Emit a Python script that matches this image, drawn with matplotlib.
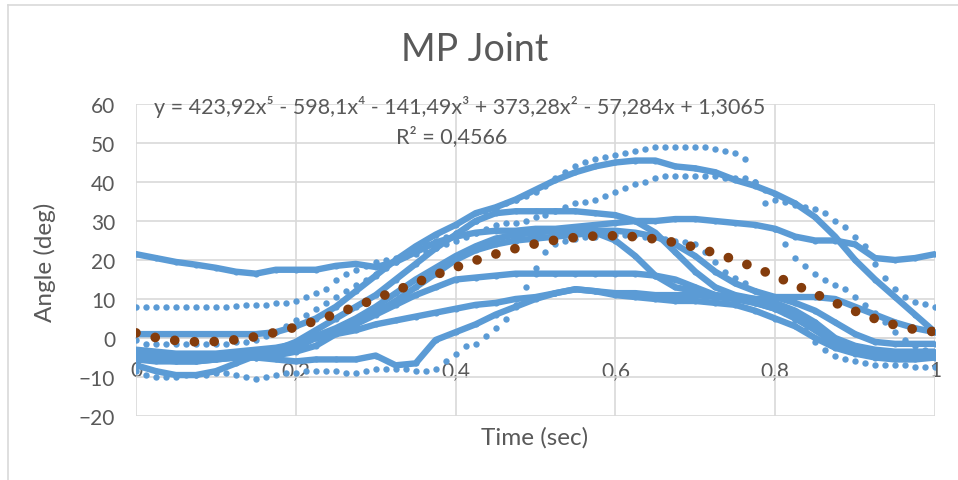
import numpy as np
import matplotlib.pyplot as plt
from matplotlib.lines import Line2D

# ---- data --------------------------------------------------------------
# dense trials, sampled every 0.025 s (normalised time)
trial_a = [21.5, 20.5, 19.5, 18.8, 18, 17, 16.5, 17.5, 17.5, 17.5, 18.5, 19, 18.2,
           19.5, 22, 24.5, 26, 27, 27.5, 27.5, 28, 28, 28.5, 29, 29.5, 30, 30,
           30.5, 30.5, 30, 29.5, 29, 28, 26, 25, 25, 24, 20.5, 20, 20.5, 21.5]
trial_b = [1, 1, 1, 1, 1, 1, 1, 1.5, 3, 5, 8, 12, 16, 20, 23.5, 26.5, 29, 32,
           33.5, 35.5, 38, 40.5, 42.5, 44, 45, 45.5, 45.5, 44, 43.5, 42.5, 40.5,
           39, 37, 34.5, 31, 26, 20, 15, 10.5, 6, 1.5]
trial_c = [-4, -4.5, -5, -5, -4.5, -4, -3.5, -3, -1, 2, 5, 8, 11, 15, 19, 23,
           26.5, 30, 32, 32.5, 32.5, 32.5, 32.5, 32, 31.5, 30, 27, 22, 17, 13,
           11, 10, 9, 7, 4, 0, -2, -3, -3.5, -3.5, -3.5]
trial_d = [-5, -5.5, -6, -6, -5.5, -5, -4.5, -4, -2.5, 0, 2, 4, 6.5, 9.5, 13,
           16.5, 20, 22.5, 24, 25, 25.5, 26, 26.5, 27, 25, 21, 16, 13, 12, 11,
           10, 9, 7.5, 5, 2, -1.5, -3.5, -4.5, -5, -5, -4.5]
trial_e = [-3, -3.5, -4, -4, -4, -3.5, -3, -2.5, -1.5, 0, 1.5, 3.5, 6, 8.5, 11,
           13, 15, 15.5, 16, 16.5, 16.5, 16.5, 16.5, 16.5, 16.5, 16.5, 16, 15,
           13, 11, 10.5, 10, 10.5, 10.5, 10.5, 10, 8, 6, 4, 2.5, 1.5]
trial_f = [-5.5, -6, -6, -6, -5.5, -5, -5, -4.5, -3.5, -2, 1, 2, 3.5, 4.5, 5.5,
           6.5, 7.5, 8.5, 9, 10, 10.5, 11.5, 12.5, 12, 11.5, 11.5, 11, 11, 11,
           10.5, 10, 9, 7.5, 6, 3, -0.5, -3, -4, -4.5, -4.5, -4]
trial_g = [-7, -8.5, -9.5, -9.5, -8.5, -6.5, -4.5, -3, -1.5, 0.5, 2.5, 5, 8,
           11.5, 15, 18, 21, 23.5, 25.5, 26.5, 27, 27.5, 27.5, 27.5, 27.5, 27,
           26, 24, 21, 17, 14, 12, 10.5, 9, 7, 4, 1, -1, -1.5, -1.5, -1.5]
trial_h = [-4, -4.5, -5, -5, -5, -5, -5, -5.5, -6, -5.5, -5.5, -5.5, -4.5, -7,
           -6.5, -0.5, 1.5, 3.5, 6, 8, 10, 11.5, 12.5, 12, 11, 10.5, 10, 9.5,
           9.5, 9, 8.5, 7, 5, 3, 0, -2.5, -4, -5, -5.5, -5.5, -5]

# fast trials, sampled every 0.0125 s (they read as dotted runs)
trial_p = [8, 8, 8, 8, 8, 8, 8, 8, 8, 8, 8.2, 8.5, 8.5, 8.5, 9, 9, 9.5, 10.5,
           11.5, 12.5, 15, 16.5, 17.5, 18.5, 19.5, 20, 20.5, 21, 21.5, 22, 23,
           24, 25, 26, 27, 28, 29, 29.5, 29.5, 30, 31, 31.5, 32.5, 33.5, 34.5,
           35, 35.5, 36.5, 37.5, 38.5, 39.5, 40, 41, 41.5, 41.5, 41.5, 41.5,
           41.5, 41.5, 41, 41, 41, 40, 38, 35.5, 35, 34, 33.5, 33, 32, 30, 28.5,
           26, 23.5, 19, 15.5, 12.5, 10.5, 9.2, 8.7, 8]
trial_q = [-8.5, -9.5, -10, -10, -10, -9.5, -9.5, -9.5, -9, -9, -9.5, -10, -10.5,
           -10, -9.5, -9, -9, -8.5, -8.5, -8.5, -8.5, -9, -9, -8.5, -8, -8, -8,
           -8, -8.5, -8.5, -8, -6, -4, -2, -1.5, 0.5, 2.5, 5, 8.5, 13, 18, 22,
           24, 25, 25.5, 26, 26, 26.5, 26.5, 26.5, 26.5, 26, 26, 25.5, 25, 24.5,
           24, 22, 19.5, 17, 15.5, 14, 12, 10, 8, 6.5, 4.5, 2, -1, -3, -4.5,
           -5.5, -6, -6.5, -7, -7, -7, -7, -7.5, -7.5, -7.5]
trial_r = [-0.5, -1.5, -1.5, -1.5, -1.5, -1.5, -1.5, -1.5, -1.5, -1.5, -1, -1,
           -0.5, 0.5, 1.5, 3, 4.5, 6, 7.5, 9, 10.5, 12, 13.5, 15, 16.5, 18, 19.5,
           21, 22.5, 24, 25, 26, 27, 28.5, 30, 31.5, 33, 34.5, 35.5, 36.5, 37.5,
           39, 41, 42.5, 44, 45, 46, 46.5, 47, 47.5, 48, 48.5, 49, 49, 49, 49,
           49, 49, 48.5, 48, 47.5, 46, 40, 34.5, 28, 24, 20.5, 18.5, 16.5, 15,
           13.5, 12.5, 10.5, 8.5, 6.5, 4, 1.5, -0.5, -2, -3, -3.5]

dense_trials = [trial_a, trial_b, trial_c, trial_d, trial_e, trial_f, trial_g, trial_h]
fast_trials = [trial_p, trial_q, trial_r]

# polynomial trendline shown on the chart (highest power first)
trend_coefs = [423.92, -598.1, -141.49, 373.28, -57.284, 1.3065]
trend_label = ("y = 423,92x\u2075 - 598,1x\u2074 - 141,49x\u00b3 + 373,28x\u00b2"
               " - 57,284x + 1,3065")
r2_label = "R\u00b2 = 0,4566"

x_ticks = [0, 0.2, 0.4, 0.6, 0.8, 1]
x_tick_labels = ["0", "0,2", "0,4", "0,6", "0,8", "1"]
y_ticks = [-20, -10, 0, 10, 20, 30, 40, 50, 60]

blue = "#5B9BD5"
brown = "#843C0C"
text_grey = "#595959"
grid_grey = "#D9D9D9"

plt.rcParams['font.family'] = ['Lato', 'DejaVu Sans']

fig = plt.figure(figsize=(9.58, 4.81), dpi=100)
ax = fig.add_axes([136 / 958, 1 - 417 / 481, 799 / 958, 312 / 481])

for vals in dense_trials:
    t = np.linspace(0, 1, len(vals))
    ax.plot(t, vals, color=blue, lw=4.6, solid_capstyle='round',
            solid_joinstyle='round', marker='o', ms=4.4, mew=0, zorder=3)

for vals in fast_trials:
    t = np.linspace(0, 1, len(vals))
    ax.plot(t, vals, ls='none', color=blue, marker='o', ms=4.6, mew=0, zorder=3)

xf = np.linspace(0, 1, 500)
ax.plot(xf, np.polyval(trend_coefs, xf), color=brown, lw=7.0,
        ls=(0, (0.001, 2.03)), dash_capstyle='round', zorder=4)

ax.set_xlim(0, 1)
ax.set_ylim(-20, 60)
ax.set_xticks(x_ticks)
ax.set_xticklabels(x_tick_labels)
ax.set_yticks(y_ticks)
ax.grid(True, color=grid_grey, lw=1.2)
ax.set_axisbelow(True)
for s in ['left', 'right', 'top']:
    ax.spines[s].set_visible(False)
ax.spines['bottom'].set_position(('data', 0))
ax.spines['bottom'].set_color(grid_grey)
ax.spines['bottom'].set_linewidth(1.2)
ax.tick_params(axis='both', length=0, colors=text_grey, labelsize=15)
ax.tick_params(axis='x', pad=16)
ax.tick_params(axis='y', pad=15)

fig.text(475 / 958, 1 - 50 / 481, "MP Joint", ha='center', va='center',
         fontsize=27, color=text_grey)
fig.text(45 / 958, 1 - 262 / 481, "Angle (deg)", ha='center', va='center',
         rotation=90, fontsize=17.5, color=text_grey)
fig.text(535 / 958, 1 - 438 / 481, "Time (sec)", ha='center', va='center',
         fontsize=17.5, color=text_grey)
fig.text(460 / 958, 1 - 107 / 481, trend_label, ha='center', va='center',
         fontsize=15.5, color=text_grey)
fig.text(452 / 958, 1 - 137 / 481, r2_label, ha='center', va='center',
         fontsize=15.5, color=text_grey)

# chart area frame (only the left and top edges show in the crop)
fig.add_artist(Line2D([8 / 958, 8 / 958], [0, 1 - 6 / 481], color=grid_grey, lw=1.2))
fig.add_artist(Line2D([8 / 958, 1], [1 - 6 / 481, 1 - 6 / 481], color=grid_grey, lw=1.2))

fig.savefig("out.png", dpi=100)
